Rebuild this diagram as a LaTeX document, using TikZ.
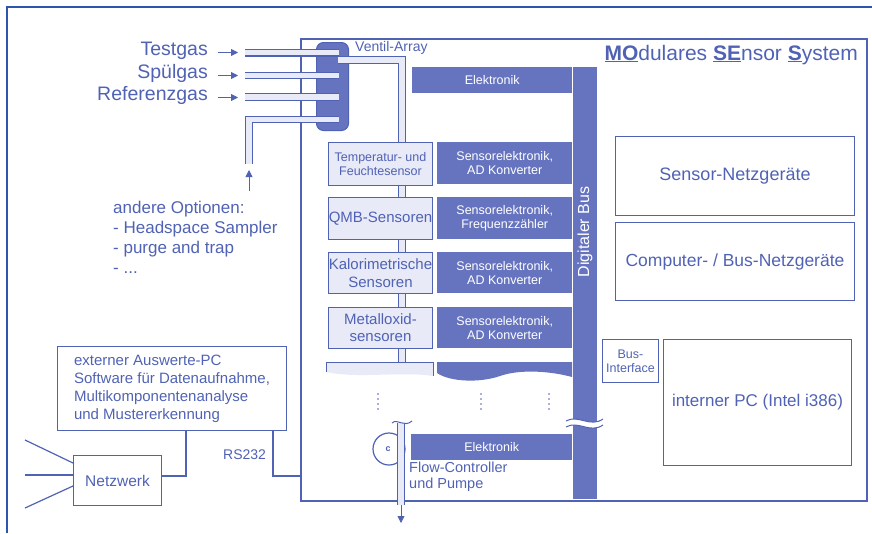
\documentclass[tikz,border=0pt]{standalone}
\usepackage{fontspec}
\setmainfont{Liberation Sans}
\usetikzlibrary{arrows.meta}
\definecolor{moslinie}{RGB}{80,98,180}
\definecolor{mosdunkel}{RGB}{102,116,192}
\definecolor{moshell}{RGB}{232,234,247}
\definecolor{mosrand}{RGB}{45,85,175}
\newcommand{\schrift}[2]{\fontsize{#1}{#2}\selectfont}

\begin{document}
\begin{tikzpicture}[x=1pt, y=-1pt,
  rahmen/.style={draw=moslinie, line width=1pt, text=moslinie, inner sep=0pt, align=center, anchor=north west},
  sensor/.style={rahmen, fill=moshell},
  elek/.style={fill=mosdunkel, text=white, inner sep=0pt, align=center, anchor=north west, font=\schrift{12.5}{14}},
  rohr/.style={draw=moslinie, line width=1.1pt, double=moshell, double distance=5.5pt},
  pfeil/.style={-{Triangle[length=7pt,width=7pt]}, moslinie, line width=0.8pt},
  leitung/.style={moslinie, line width=1.2pt},
  txt/.style={text=moslinie, inner sep=0pt}]
  \useasboundingbox (0,0) rectangle (872,533);
  % Seitenrahmen oben und links
  \draw[mosrand, line width=2pt] (7,533) -- (7,7) -- (872,7);

  % Gehaeuse MOSES
  \node[rahmen, line width=1.5pt, minimum width=566pt, minimum height=462pt] (moses) at (300,38) {};
  \node[txt, anchor=base east, font=\schrift{21}{24}] (titel) at (858,60)
       {\underline{\textbf{MO}}dulares \underline{\textbf{SE}}nsor \underline{\textbf{S}}ystem};

  % Gaseingaenge
  \node[txt, anchor=base east, font=\schrift{19.5}{22}] (testgas) at (208,55) {Testgas};
  \node[txt, anchor=base east, font=\schrift{19.5}{22}] (spuelgas) at (208,78) {Spülgas};
  \node[txt, anchor=base east, font=\schrift{19.5}{22}] (refgas) at (208,100) {Referenzgas};
  \foreach \g in {testgas, spuelgas, refgas}
    \draw[pfeil] ([xshift=10pt, yshift=2.5pt]\g.base east) -- ++(20pt,0);

  % Ventil-Array
  \node[draw=moslinie, fill=mosdunkel, line width=1pt, rounded corners=7pt, inner sep=0pt,
        minimum width=32pt, minimum height=88pt, anchor=north west] (ventile) at (316,42) {};
  \node[txt, anchor=base west, font=\schrift{14}{16}] (ventiltext) at (355,51) {Ventil-Array};
  \coordinate (einTest) at (245,52.7);
  \coordinate (einSpuel) at (245,75.5);
  \coordinate (einRef) at (245,97);
  \coordinate (einUnten) at (249,164);
  \coordinate (ausgang) at (338,60);
  \coordinate (rohrx) at (402,0);
  \foreach \e in {einTest, einSpuel, einRef}
    \draw[rohr] (\e) -- ([xshift=-10pt]\e -| ventile.east);
  \draw[rohr] (einUnten) |- ([xshift=-10pt]ventile.east |- 0,119.5);
  \draw[pfeil] (249,191) -- (249,170);
  \node[txt, anchor=base west, align=left, font=\schrift{17}{20}] (optionen) at (113,273)
       {andere Optionen:\\- Headspace Sampler\\- purge and trap\\- ...};

  % Sensoren und Sensorelektronik
  \node[elek, minimum width=160pt, minimum height=26pt] (elekoben) at (412,67) {Elektronik};
  \node[sensor, minimum width=104pt, minimum height=43pt, font=\schrift{12.5}{14}] (temp) at (328,142)
       {Temperatur- und\\Feuchtesensor};
  \node[sensor, minimum width=104pt, minimum height=42pt, font=\schrift{15}{17}] (qmb) at (328,197)
       {QMB-Sensoren};
  \node[sensor, minimum width=104pt, minimum height=41pt, font=\schrift{15}{18}] (kalori) at (328,252)
       {Kalorimetrische\\Sensoren};
  \node[sensor, minimum width=104pt, minimum height=41pt, font=\schrift{15}{17}] (metall) at (328,307)
       {Metalloxid-\\sensoren};
  \node[elek, minimum width=135pt, minimum height=42pt] (elekA) at (437,142) {Sensorelektronik,\\AD Konverter};
  \node[elek, minimum width=135pt, minimum height=42pt] (elekB) at (437,197) {Sensorelektronik,\\Frequenzzähler};
  \node[elek, minimum width=135pt, minimum height=41pt] (elekC) at (437,252) {Sensorelektronik,\\AD Konverter};
  \node[elek, minimum width=135pt, minimum height=41pt] (elekD) at (437,307) {Sensorelektronik,\\AD Konverter};
  \coordinate (rest) at (402,362);
  % angedeutete weitere Sensoren
  \fill[moshell] (326,362) -- (433,362) -- (433,376) .. controls (400,371) and (360,379) .. (326,372) -- cycle;
  \draw[moslinie, line width=1pt] (326,372) -- (326,362) -- (433,362) -- (433,376);
  \fill[mosdunkel] (572,362) -- (437,362) -- (437,373) .. controls (450,382) and (480,383) .. (500,376)
       .. controls (520,369) and (550,371) .. (572,377) -- cycle;
  \foreach \x in {378, 481, 549}
    \foreach \y in {394, 399, 404, 409}
      \fill[moslinie] (\x,\y) circle (0.9pt);

  % Gasweg durch die Sensoren
  \draw[rohr] (ausgang) -| (rohrx |- temp.north);
  \draw[rohr] (rohrx |- temp.south) -- (rohrx |- qmb.north);
  \draw[rohr] (rohrx |- qmb.south) -- (rohrx |- kalori.north);
  \draw[rohr] (rohrx |- kalori.south) -- (rohrx |- metall.north);
  \draw[rohr] (rohrx |- metall.south) -- (rest);

  % Digitaler Bus
  \node[fill=mosdunkel, inner sep=0pt, minimum width=24pt, minimum height=432pt, anchor=north west] (bus) at (573,67) {};
  \node[txt, text=white, rotate=90, font=\schrift{16}{18}] (bustext) at (585,232) {Digitaler Bus};
  \fill[white] (566,421) .. controls (578,414) and (590,428) .. (603,419) -- (603,425)
       .. controls (590,434) and (578,420) .. (566,427) -- cycle;
  \draw[moslinie, line width=1pt] (566,421) .. controls (578,414) and (590,428) .. (603,419);
  \draw[moslinie, line width=1pt] (566,427) .. controls (578,420) and (590,434) .. (603,425);

  % Flow-Controller und Pumpe
  \node[elek, minimum width=161pt, minimum height=26pt] (elekunten) at (411,434) {Elektronik};
  \node[circle, draw=moslinie, fill=white, line width=1.2pt, minimum size=32pt, inner sep=0pt] (pumpe) at (389,449) {};
  \node[txt, font=\bfseries\schrift{9}{10}] (pumpzeichen) at (388,449) {c};
  \coordinate (pumpoben) at (401,423);
  \coordinate (pumpunten) at (401,505);
  \draw[rohr] (pumpoben) -- (pumpunten);
  \draw[moslinie, line width=1pt] (392,423) .. controls (397,418) and (404,428) .. (412,421);
  \draw[pfeil] (pumpunten) -- (401,523);
  \node[txt, anchor=base west, align=left, font=\schrift{14.5}{16}] (flowtext) at (409,488)
       {Flow-Controller\\und Pumpe};

  % Netzgeraete und interner PC
  \node[rahmen, minimum width=239pt, minimum height=79pt, font=\schrift{18}{20}] (snetz) at (615,136) {Sensor-Netzgeräte};
  \node[rahmen, minimum width=239pt, minimum height=78pt, font=\schrift{17.5}{20}] (cbnetz) at (615,222) {Computer- / Bus-Netzgeräte};
  \node[rahmen, minimum width=56pt, minimum height=43pt, font=\schrift{12.5}{14}] (busif) at (602,339) {Bus-\\Interface};
  \node[rahmen, minimum width=188pt, minimum height=126pt, font=\schrift{17}{20}] (ipc) at (663,339) {interner PC (Intel i386)};

  % externer PC und Netzwerk
  \node[rahmen, minimum width=229pt, minimum height=84pt, align=left, font=\schrift{15}{18}] (extpc) at (57,346)
       {externer Auswerte-PC\\Software für Datenaufnahme,\\Multikomponentenanalyse\\und Mustererkennung};
  \node[rahmen, minimum width=88pt, minimum height=50pt, font=\schrift{15.5}{18}] (netz) at (73,455) {Netzwerk};
  \coordinate (knickA) at (186,476);
  \coordinate (rsknick) at (273,476);
  \draw[leitung] (extpc.south -| knickA) -- (knickA) -- (knickA -| netz.east);
  \draw[leitung] (extpc.south -| rsknick) -- (rsknick) -- (rsknick -| moses.west);
  \node[txt, anchor=base west, font=\schrift{14}{16}] (rs) at (223,459) {RS232};
  \coordinate (netzA) at (25,440);
  \coordinate (netzB) at (25,475);
  \coordinate (netzC) at (25,508);
  \draw[leitung] (netzA) -- (netz.west |- 0,463);
  \draw[leitung] (netzB) -- (netz.west |- 0,475);
  \draw[leitung] (netzC) -- (netz.west |- 0,486);
\end{tikzpicture}
\end{document}
